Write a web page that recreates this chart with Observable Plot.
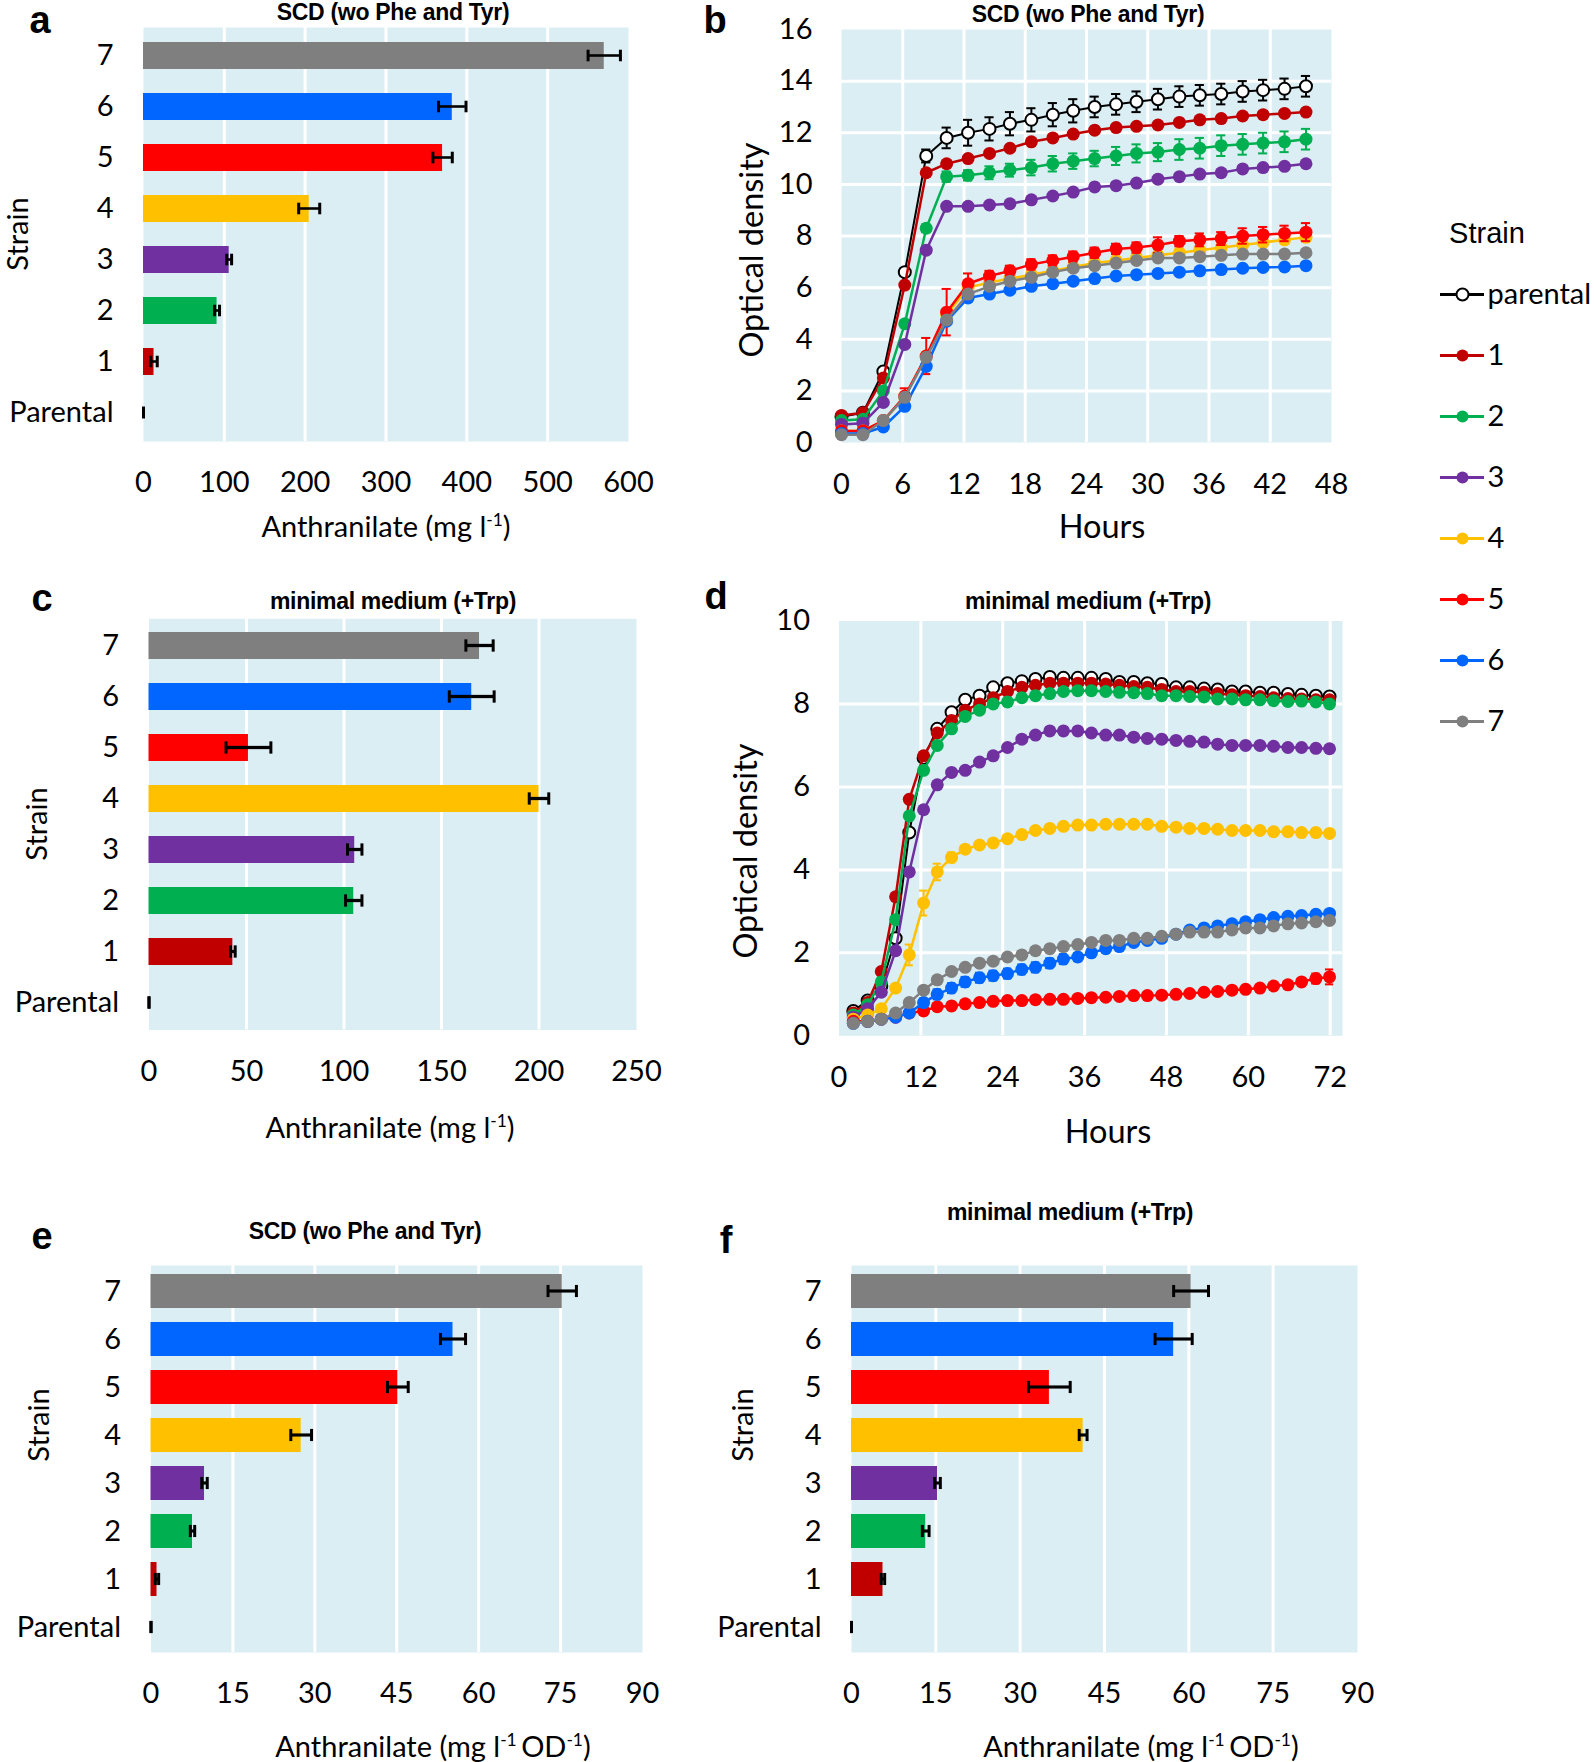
<!DOCTYPE html>
<html><head><meta charset="utf-8">
<script src="https://cdn.jsdelivr.net/npm/d3@7"></script>
<script src="https://cdn.jsdelivr.net/npm/@observablehq/plot@0.6"></script>
<style>
body{margin:0;background:#fff;}
#fig{position:relative;width:1594px;height:1762px;overflow:hidden;background:#fff;}
.pl{position:absolute;}
.t{position:absolute;white-space:nowrap;transform:translate(-50%,-50%);color:#000;line-height:1;}
.lab{font-family:"Liberation Sans",Arial,sans-serif;font-weight:bold;font-size:38px;}
.ttl{font-family:"Liberation Sans",Arial,sans-serif;font-weight:bold;font-size:23px;letter-spacing:-0.3px;}
.ax{font-family:Lato,"Open Sans",sans-serif;font-size:29px;}
.ax2{font-family:Lato,"Open Sans",sans-serif;font-size:32.5px;}
.rot{transform:translate(-50%,-50%) rotate(-90deg);}
.leg{font-family:"Liberation Sans",Arial,sans-serif;font-size:29px;}
sup{font-size:60%;vertical-align:0.6em;line-height:0;}
</style></head><body><div id="fig"></div>
<script>
// ---------- categories & colours ----------
const strains = ["parental","1","2","3","4","5","6","7"];
const strainColors = ["#000000","#c00000","#00b050","#7030a0","#ffc000","#ff0000","#0066ff","#7f7f7f"];
const barStrains = ["7","6","5","4","3","2","1","Parental"];
const barColors = ["#7f7f7f","#0066ff","#ff0000","#ffc000","#7030a0","#00b050","#c00000","#000000"];
const bg = "#dbeef4";

// ---------- panel a: anthranilate (mg/l), SCD ----------
const aVal = [570, 382, 370, 205, 106, 91, 13, 0];
const aErr = [20, 17, 12, 13, 3, 3, 4, 0];
const aTicks = [0,100,200,300,400,500,600];

// ---------- panel c: anthranilate (mg/l), minimal medium ----------
const cVal = [169.5, 165.5, 51, 200, 105.5, 105, 43, 0];
const cErr = [7, 11.5, 11.5, 5, 3.7, 4.2, 1.2, 0];
const cTicks = [0,50,100,150,200,250];

// ---------- panel e: anthranilate per OD, SCD ----------
const eVal = [75.3, 55.3, 45.2, 27.5, 9.8, 7.6, 1.1, 0];
const eErr = [2.6, 2.3, 1.9, 1.9, 0.5, 0.4, 0.3, 0];
// ---------- panel f: anthranilate per OD, minimal medium ----------
const fVal = [60.4, 57.3, 35.2, 41.2, 15.3, 13.2, 5.6, 0];
const fErr = [3.1, 3.3, 3.7, 0.7, 0.5, 0.6, 0.3, 0];
const efTicks = [0,15,30,45,60,75,90];

// ---------- panel b: growth in SCD (hours, OD) ----------
const tB = [0,2.1,4.1,6.2,8.3,10.3,12.4,14.5,16.5,18.6,20.7,22.7,24.8,26.9,28.9,31,33.1,35.1,37.2,39.3,41.3,43.4,45.5];
const bParental = [1.0,1.15,2.75,6.6,11.1,11.8,12.0,12.15,12.35,12.5,12.7,12.85,13.0,13.1,13.2,13.3,13.4,13.45,13.5,13.6,13.65,13.7,13.8];
const b1 = [1.05,1.15,2.5,6.1,10.45,10.8,11.0,11.2,11.4,11.65,11.8,11.95,12.1,12.2,12.25,12.3,12.4,12.5,12.55,12.65,12.7,12.75,12.8];
const b2 = [0.85,0.9,2.0,4.6,8.3,10.3,10.35,10.45,10.55,10.65,10.8,10.9,11.0,11.1,11.2,11.25,11.35,11.4,11.5,11.55,11.6,11.65,11.75];
const b3 = [0.7,0.75,1.55,3.8,7.45,9.15,9.15,9.2,9.25,9.4,9.55,9.7,9.9,9.95,10.05,10.2,10.3,10.4,10.45,10.6,10.65,10.7,10.8];
const b4 = [0.45,0.45,0.85,1.75,3.35,4.95,6.0,6.2,6.35,6.5,6.65,6.8,6.95,7.05,7.15,7.25,7.35,7.45,7.55,7.65,7.75,7.85,7.95];
const b5 = [0.45,0.45,0.85,1.8,3.35,5.05,6.15,6.45,6.65,6.9,7.05,7.2,7.35,7.5,7.55,7.65,7.8,7.85,7.9,8.0,8.05,8.1,8.15];
const b6 = [0.35,0.35,0.6,1.4,2.95,4.7,5.6,5.75,5.9,6.05,6.15,6.25,6.35,6.45,6.5,6.55,6.6,6.65,6.7,6.75,6.78,6.8,6.85];
const b7 = [0.3,0.3,0.85,1.75,3.3,4.75,5.75,6.05,6.25,6.4,6.6,6.75,6.85,6.95,7.05,7.15,7.15,7.2,7.25,7.3,7.3,7.3,7.35];
const bErrParental = [0,0,0.1,0.15,0.25,0.4,0.5,0.45,0.45,0.45,0.45,0.45,0.4,0.4,0.4,0.4,0.4,0.4,0.4,0.4,0.4,0.4,0.4];
const bErr2 = [0,0,0,0.1,0.15,0.2,0.2,0.25,0.25,0.3,0.3,0.3,0.3,0.35,0.35,0.35,0.4,0.4,0.4,0.4,0.4,0.4,0.4];
const bErr5 = [0,0,0,0.3,0.7,0.9,0.4,0.2,0.2,0.2,0.2,0.2,0.2,0.2,0.2,0.3,0.2,0.25,0.25,0.3,0.3,0.3,0.35];
const bTicksX = [0,6,12,18,24,30,36,42,48];
const bTicksY = [0,2,4,6,8,10,12,14,16];

// ---------- panel d: growth in minimal medium ----------
const tD = [2.1,4.2,6.2,8.3,10.3,12.4,14.4,16.5,18.5,20.6,22.6,24.7,26.8,28.8,30.9,32.9,35,37,39.1,41.1,43.2,45.2,47.3,49.4,51.4,53.5,55.5,57.6,59.6,61.7,63.7,65.8,67.8,69.9,71.9];
const dParental = [0.6,0.85,1.2,2.35,4.9,6.7,7.4,7.8,8.1,8.2,8.4,8.5,8.55,8.6,8.65,8.63,8.63,8.63,8.6,8.53,8.53,8.5,8.48,8.4,8.4,8.37,8.35,8.3,8.3,8.27,8.27,8.24,8.22,8.2,8.18];
const d1 = [0.55,0.8,1.55,3.35,5.7,6.75,7.3,7.6,7.85,8.0,8.15,8.3,8.4,8.45,8.5,8.5,8.5,8.5,8.48,8.45,8.42,8.4,8.35,8.3,8.3,8.28,8.25,8.22,8.2,8.18,8.15,8.13,8.12,8.1,8.1];
const d2 = [0.5,0.75,1.3,2.8,5.3,6.4,7.0,7.4,7.7,7.85,8.0,8.05,8.15,8.2,8.25,8.3,8.32,8.32,8.3,8.28,8.27,8.25,8.2,8.2,8.18,8.17,8.12,8.12,8.1,8.1,8.08,8.06,8.07,8.05,8.0];
const d3 = [0.45,0.65,1.05,2.05,3.95,5.45,6.05,6.35,6.4,6.6,6.75,6.95,7.15,7.25,7.35,7.35,7.35,7.3,7.25,7.25,7.2,7.17,7.15,7.12,7.1,7.08,7.03,7.0,7.0,7.0,6.98,6.95,6.95,6.93,6.92];
const d4 = [0.4,0.5,0.65,1.15,1.95,3.2,3.95,4.3,4.5,4.6,4.65,4.75,4.85,4.95,5.0,5.05,5.08,5.08,5.1,5.1,5.1,5.1,5.05,5.03,5.0,5.0,4.98,4.95,4.95,4.95,4.92,4.92,4.9,4.9,4.88];
const d5 = [0.35,0.35,0.4,0.45,0.55,0.6,0.7,0.72,0.77,0.8,0.83,0.85,0.85,0.87,0.88,0.88,0.9,0.92,0.93,0.95,0.97,0.97,0.98,1.0,1.02,1.05,1.07,1.1,1.12,1.15,1.2,1.23,1.3,1.38,1.42];
const d6 = [0.3,0.35,0.4,0.45,0.55,0.8,1.0,1.15,1.3,1.4,1.45,1.5,1.6,1.65,1.75,1.85,1.9,2.0,2.1,2.15,2.25,2.3,2.35,2.45,2.55,2.6,2.65,2.7,2.75,2.8,2.85,2.88,2.9,2.93,2.95];
const d7 = [0.3,0.35,0.4,0.55,0.8,1.1,1.35,1.55,1.65,1.75,1.8,1.9,1.95,2.05,2.1,2.15,2.2,2.25,2.3,2.3,2.35,2.35,2.4,2.45,2.5,2.5,2.5,2.55,2.6,2.6,2.65,2.7,2.72,2.75,2.78];
const dErr4 = [0,0,0,0.05,0.25,0.3,0.2,0.12,0.05,0,0,0,0,0,0,0,0,0,0,0,0,0,0,0,0,0,0,0,0,0,0,0,0,0,0];
const dErr5 = [0,0,0,0,0,0,0,0,0,0,0,0,0,0,0,0,0,0,0,0,0,0,0,0,0,0,0,0,0,0,0,0.05,0.08,0.12,0.18];
const dErr6 = [0,0,0,0,0.05,0.1,0.12,0.12,0.12,0.12,0.12,0.12,0.12,0.12,0.12,0.12,0.1,0.1,0.08,0.06,0.05,0.05,0,0,0,0,0,0,0,0,0,0,0,0,0];
const dTicksX = [0,12,24,36,48,60,72];
const dTicksY = [0,2,4,6,8,10];

// ---------- helpers ----------
const fig = document.getElementById("fig");
const baseStyle = {fontFamily:"Lato, 'Open Sans', sans-serif", fontSize:"29px", color:"#000", background:"transparent", overflow:"visible"};
function place(node, left, top){ node.classList.add("pl"); node.style.left = left+"px"; node.style.top = top+"px"; fig.appendChild(node); }
function txt(html, x, y, cls){ const d=document.createElement("div"); d.className="t "+cls; d.innerHTML=html; d.style.left=x+"px"; d.style.top=y+"px"; fig.appendChild(d); }

function barPanel({vals, errs, xMax, xTicks, width, height, ml, mr, mt, mb, padIn}){
  const data = barStrains.map((s,i)=>({s, v: vals[i], e: errs[i], c: barColors[i]}));
  const step = (height-mt-mb)/8, bw = step*(1-padIn);
  const lineInset = bw/2-1.5, capInset = (bw-12)/2;
  return Plot.plot({
    width, height, marginLeft: ml, marginRight: mr, marginTop: mt, marginBottom: mb,
    style: baseStyle,
    x: {domain:[0,xMax], ticks:xTicks, tickSize:0, tickPadding:30, label:null},
    y: {domain: barStrains, paddingInner: padIn, paddingOuter: padIn/2, tickSize:0, tickPadding:30, label:null},
    color: {type:"identity"},
    marks: [
      Plot.frame({fill:bg, stroke:"none"}),
      Plot.ruleX(xTicks.filter(t=>t>0 && t<xMax), {stroke:"white", strokeWidth:3}),
      Plot.barX(data, {x:"v", y:"s", fill:"c"}),
      Plot.barX(data, {x1:d=>d.v-d.e, x2:d=>d.v+d.e, y:"s", fill:"black", insetTop:lineInset, insetBottom:lineInset}),
      Plot.tickX(data, {x:d=>d.v-d.e, y:"s", stroke:"black", strokeWidth:3, insetTop:capInset, insetBottom:capInset}),
      Plot.tickX(data, {x:d=>d.v+d.e, y:"s", stroke:"black", strokeWidth:3, insetTop:capInset, insetBottom:capInset})
    ]
  });
}

function linePanel({times, series, errs, xMax, xTicks, yMax, yTicks, width, height, ml, mr, mt, mb, capW, r}){
  const marks = [
    Plot.frame({fill:bg, stroke:"none"}),
    Plot.ruleX(xTicks.filter(t=>t>0 && t<xMax), {stroke:"white", strokeWidth:3}),
    Plot.ruleY(yTicks.filter(t=>t>0 && t<yMax), {stroke:"white", strokeWidth:3})
  ];
  strains.forEach((s,k)=>{
    const col = strainColors[k];
    const data = times.map((t,i)=>({t, v: series[k][i], e: errs[k] ? errs[k][i] : 0}));
    const ed = data.filter(d=>d.e>0);
    marks.push(Plot.line(data, {x:"t", y:"v", stroke:col, strokeWidth: s==="parental"?2:2.5}));
    marks.push(Plot.ruleX(ed, {x:"t", y1:d=>d.v-d.e, y2:d=>d.v+d.e, stroke:col, strokeWidth:2}));
    marks.push(Plot.ruleY(ed, {y:d=>d.v+d.e, x1:d=>d.t-capW, x2:d=>d.t+capW, stroke:col, strokeWidth:2}));
    marks.push(Plot.ruleY(ed, {y:d=>d.v-d.e, x1:d=>d.t-capW, x2:d=>d.t+capW, stroke:col, strokeWidth:2}));
    marks.push(Plot.dot(data, {x:"t", y:"v", r: s==="parental" ? r-0.5 : r, fill: s==="parental"?"white":col, stroke:col, strokeWidth: s==="parental"?2:0}));
  });
  return Plot.plot({
    width, height, marginLeft: ml, marginRight: mr, marginTop: mt, marginBottom: mb,
    style: baseStyle,
    x: {domain:[0,xMax], ticks:xTicks, tickSize:0, tickPadding:31, label:null},
    y: {domain:[0,yMax], ticks:yTicks, tickSize:0, tickPadding:29, label:null},
    marks
  });
}

// ---------- panels ----------
place(barPanel({vals:aVal, errs:aErr, xMax:600, xTicks:aTicks, width:660, height:545, ml:143, mr:32, mt:27, mb:104, padIn:0.47}), 0, 0);
place(linePanel({times:tB, series:[bParental,b1,b2,b3,b4,b5,b6,b7], errs:[bErrParental,null,bErr2,null,null,bErr5,null,null],
  xMax:48, xTicks:bTicksX, yMax:16, yTicks:bTicksY, width:700, height:545, ml:141, mr:69, mt:29, mb:103, capW:0.45, r:6.5}), 700, 0);
place(barPanel({vals:cVal, errs:cErr, xMax:250, xTicks:cTicks, width:680, height:600, ml:148.5, mr:44, mt:58.3, mb:130.5, padIn:0.48}), 0, 560);
place(linePanel({times:tD, series:[dParental,d1,d2,d3,d4,d5,d6,d7], errs:[null,null,null,null,dErr4,dErr5,dErr6,null],
  xMax:73.8, xTicks:dTicksX, yMax:10, yTicks:dTicksY, width:700, height:600, ml:138.5, mr:58, mt:60.5, mb:124.7, capW:0.6, r:6.5}), 700, 560);
place(barPanel({vals:eVal, errs:eErr, xMax:90, xTicks:efTicks, width:680, height:562, ml:150.5, mr:38, mt:65, mb:110, padIn:0.3}), 0, 1200);
place(barPanel({vals:fVal, errs:fErr, xMax:90, xTicks:efTicks, width:680, height:562, ml:151, mr:23, mt:65, mb:110, padIn:0.3}), 700, 1200);

// ---------- legend ----------
const legData = strains.map((s,k)=>({s, c: strainColors[k]}));
place(Plot.plot({
  width:174, height:490, style: baseStyle,
  x:{domain:[0,1], range:[20,64], axis:null},
  y:{type:"point", domain:strains, range:[32,462], padding:0, axis:null},
  color:{type:"identity"},
  marks:[
    Plot.ruleY(legData, {y:"s", x1:0, x2:1, stroke:"c", strokeWidth:3}),
    Plot.dot(legData, {x:0.5, y:"s", r:6, fill:d=>d.s==="parental"?"white":d.c, stroke:"c", strokeWidth:d=>d.s==="parental"?2:0}),
    Plot.text(legData, {x:1, y:"s", text:"s", textAnchor:"start", dx:3, fill:"black", fontSize:29})
  ]
}), 1420, 260);
txt("Strain", 1487, 233, "leg");

// ---------- texts ----------
const xLabA = "Anthranilate (mg l<sup>-1</sup>)";
const xLabE = "Anthranilate (mg l<sup>-1 </sup>OD<sup>-1</sup>)";
const tSCD = "SCD (wo Phe and Tyr)", tMM = "minimal medium (+Trp)";
txt("a", 40, 20, "lab"); txt(tSCD, 393, 12, "ttl"); txt("Strain", 16, 234, "ax rot"); txt(xLabA, 386, 525, "ax");
txt("b", 715, 20, "lab"); txt(tSCD, 1088, 14, "ttl"); txt("Optical density", 751, 250, "ax2 rot"); txt("Hours", 1102, 526, "ax2");
txt("c", 42, 598, "lab"); txt(tMM, 393, 601, "ttl"); txt("Strain", 35, 824, "ax rot"); txt(xLabA, 390, 1126, "ax");
txt("d", 716, 596, "lab"); txt(tMM, 1088, 601, "ttl"); txt("Optical density", 745, 851, "ax2 rot"); txt("Hours", 1108, 1131, "ax2");
txt("e", 42, 1236, "lab"); txt(tSCD, 365, 1231, "ttl"); txt("Strain", 37, 1425, "ax rot"); txt(xLabE, 433, 1745, "ax");
txt("f", 726, 1240, "lab"); txt(tMM, 1070, 1212, "ttl"); txt("Strain", 741, 1425, "ax rot"); txt(xLabE, 1141, 1745, "ax");
</script>
</body></html>
